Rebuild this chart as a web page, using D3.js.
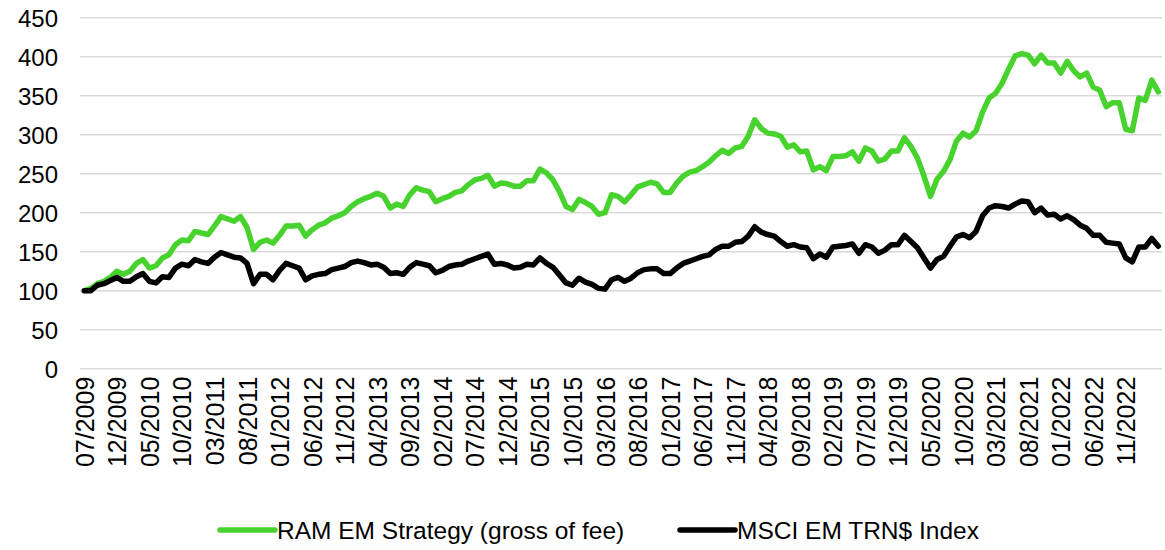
<!DOCTYPE html>
<html>
<head>
<meta charset="utf-8">
<script src="https://cdn.jsdelivr.net/npm/d3@7"></script>
<style>
  body { margin: 0; background: #fff; }
  svg text { font-family: "Liberation Sans", Arial, sans-serif; fill: #000; }
</style>
</head>
<body>
<div id="chart"></div>
<script>
// monthly index values, 07/2009 = 100
var ramEM = [
  100,103,109,112,117,125,121,125,135,140,129,132,142,146,159,165,164,176,174,172,183,195,192,189,195,181,153,162,
  165,161,171,183,183,184,170,178,184,187,193,196,200,208,214,218,221,225,221,206,211,208,223,232,229,227,214,218,
  221,226,228,236,242,244,248,234,238,237,234,234,241,241,256,251,242,227,208,204,217,213,208,198,200,223,221,
  214,223,233,236,239,237,226,226,238,247,252,254,259,265,273,280,276,283,285,298,319,308,302,301,298,284,287,278,
  279,255,259,254,272,272,273,278,266,283,279,266,269,279,279,296,285,270,247,221,243,253,268,292,302,297,305,
  329,347,353,366,384,401,404,402,391,402,392,392,379,394,382,374,379,361,357,336,341,341,307,305,347,344,370,355
];
var msciEM = [
  100,100,107,109,113,117,112,112,118,122,112,110,118,117,129,134,132,140,137,135,143,149,146,143,142,135,109,121,
  121,114,126,135,132,129,114,119,121,122,127,129,131,136,138,136,133,134,130,122,123,121,130,136,134,132,123,126,
  131,133,134,138,141,144,147,134,135,133,129,130,134,133,142,135,130,120,110,107,116,111,108,103,102,114,117,
  112,116,123,127,128,128,122,122,129,135,138,141,144,146,153,157,157,162,163,170,182,175,172,170,163,157,159,156,
  155,141,147,143,156,157,158,160,148,159,156,148,152,159,159,171,163,155,142,129,140,144,157,169,172,168,176,
  196,206,209,208,206,211,215,214,200,206,197,198,192,196,191,184,180,171,171,162,161,160,142,137,156,156,167,157
];
var seriesNames = ["RAM EM Strategy (gross of fee)", "MSCI EM TRN$ Index"];
var seriesColors = ["#47d22e", "#000000"];
var yTicks = [0, 50, 100, 150, 200, 250, 300, 350, 400, 450];
var xTickLabels = [
  "07/2009","12/2009","05/2010","10/2010","03/2011","08/2011","01/2012","06/2012","11/2012",
  "04/2013","09/2013","02/2014","07/2014","12/2014","05/2015","10/2015","03/2016","08/2016",
  "01/2017","06/2017","11/2017","04/2018","09/2018","02/2019","07/2019","12/2019","05/2020",
  "10/2020","03/2021","08/2021","01/2022","06/2022","11/2022"
];

// categories: one per month, starting 07/2009
var months = d3.timeMonth.range(new Date(2009, 6, 1), new Date(2023, 4, 1));
var fmt = d3.timeFormat("%m/%Y");
var categories = months.map(fmt);

var width = 1165, height = 550;
var plot = { left: 80, right: 1162, top: 17.7, bottom: 368.7 };

var svg = d3.select("#chart").append("svg")
    .attr("width", width)
    .attr("height", height);

var x = d3.scalePoint()
    .domain(categories)
    .range([84.3, 1158.3]);

var y = d3.scaleLinear()
    .domain([0, 450])
    .range([plot.bottom, plot.top]);

// horizontal gridlines
svg.append("g")
    .selectAll("line")
    .data(yTicks)
    .enter()
    .append("line")
    .attr("x1", plot.left)
    .attr("x2", plot.right)
    .attr("y1", d => y(d))
    .attr("y2", d => y(d))
    .attr("stroke", "#d9d9d9")
    .attr("stroke-width", 1.5);

// y axis labels
var yAxis = svg.append("g")
    .attr("transform", "translate(" + (plot.left - 18) + ",0)")
    .call(d3.axisLeft(y).tickValues(yTicks).tickSize(0).tickPadding(4));
yAxis.select(".domain").remove();
yAxis.selectAll("text")
    .style("font-size", "24px")
    .attr("dy", "0.35em");

// x axis labels, every 5th month
var xAxis = svg.append("g")
    .attr("transform", "translate(0," + (plot.bottom + 8) + ")")
    .call(d3.axisBottom(x).tickValues(xTickLabels).tickSize(0));
xAxis.select(".domain").remove();
xAxis.selectAll("text")
    .style("font-size", "25px")
    .attr("text-anchor", "end")
    .attr("transform", "rotate(-90)")
    .attr("x", 0)
    .attr("y", 0)
    .attr("dx", 0)
    .attr("dy", "0.36em");

var line = d3.line()
    .x((d, i) => x(categories[i]))
    .y(d => y(d));

[ramEM, msciEM].forEach(function (values, k) {
    svg.append("path")
        .datum(values)
        .attr("fill", "none")
        .attr("stroke", seriesColors[k])
        .attr("stroke-width", 5.5)
        .attr("stroke-linejoin", "round")
        .attr("stroke-linecap", "round")
        .attr("d", line);
});

// legend
var legendX = [220, 680];
var legend = svg.append("g")
    .selectAll("g")
    .data(seriesNames)
    .enter()
    .append("g")
    .attr("transform", (d, i) => "translate(" + legendX[i] + ",530)");

legend.append("line")
    .attr("x1", 0)
    .attr("x2", 55)
    .attr("stroke", (d, i) => seriesColors[i])
    .attr("stroke-width", 5.5)
    .attr("stroke-linecap", "round");

legend.append("text")
    .attr("x", 57)
    .attr("dy", "0.35em")
    .style("font-size", "24.5px")
    .text(d => d);
</script>
</body>
</html>
